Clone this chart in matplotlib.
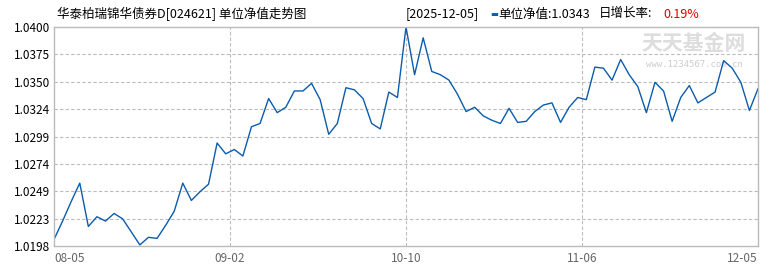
import matplotlib
matplotlib.use('Agg')
import matplotlib.pyplot as plt
import numpy as np

plt.rcParams['font.family'] = ['Noto Sans CJK SC', 'DejaVu Sans']

# 单位净值
nav = [1.0204, 1.0221, 1.0239, 1.0256, 1.0216, 1.0225, 1.0221, 1.0228, 1.0223, 1.0211,
       1.0199, 1.0206, 1.0205, 1.0217, 1.0230, 1.0256, 1.0240, 1.0248, 1.0255, 1.0293,
       1.0283, 1.0287, 1.0281, 1.0308, 1.0311, 1.0334, 1.0321, 1.0326, 1.0341, 1.0341,
       1.0348, 1.0333, 1.0301, 1.0311, 1.0344, 1.0342, 1.0334, 1.0311, 1.0306, 1.0340,
       1.0335, 1.0400, 1.0356, 1.0390, 1.0359, 1.0356, 1.0351, 1.0338, 1.0322, 1.0326,
       1.0318, 1.0314, 1.0311, 1.0325, 1.0312, 1.0313, 1.0322, 1.0328, 1.0330, 1.0312,
       1.0326, 1.0335, 1.0333, 1.0363, 1.0362, 1.0351, 1.0370, 1.0356, 1.0345, 1.0321,
       1.0349, 1.0341, 1.0313, 1.0335, 1.0346, 1.0330, 1.0335, 1.0340, 1.0369, 1.0362,
       1.0349, 1.0323, 1.0343]

x_labels = ['08-05', '09-02', '10-10', '11-06', '12-05']
y_labels = ['1.0198', '1.0223', '1.0249', '1.0274', '1.0299',
            '1.0324', '1.0350', '1.0375', '1.0400']
y_min, y_max = 1.0198, 1.0400

title = '华泰柏瑞锦华债券D[024621] 单位净值走势图'
last_date = '[2025-12-05]'
last_nav = '单位净值:1.0343'
growth = '0.19%'

fig = plt.figure(figsize=(7.7, 2.7), dpi=100)
ax = fig.add_axes([54 / 770, 24 / 270, 704 / 770, 219 / 270])

x = np.arange(len(nav))
ax.plot(x, nav, color='#0b5cad', linewidth=1.0)

ax.set_xlim(0, len(nav) - 1)
ax.set_ylim(y_min, y_max)

xt = np.linspace(0, len(nav) - 1, len(x_labels))
yt = np.linspace(y_min, y_max, len(y_labels))
ax.set_xticks(xt)
ax.set_xticklabels(x_labels, color='#666666', fontsize=8.5)
ax.set_yticks(yt)
ax.set_yticklabels(y_labels, color='#000000', fontsize=8.5)
ax.tick_params(length=0)
ax.tick_params(axis='y', pad=3)
ax.tick_params(axis='x', pad=4)
xtl = ax.get_xticklabels()
xtl[0].set_ha('left')
xtl[-1].set_ha('right')

# 网格
for v in yt[1:-1]:
    ax.axhline(v, color='#bbbbbb', linestyle=(0, (3, 2)), linewidth=0.8, zorder=0)
for v in xt[1:-1]:
    ax.axvline(v, color='#bbbbbb', linestyle=(0, (3, 2)), linewidth=0.8, zorder=0)

for s in ax.spines.values():
    s.set_color('#bbbbbb')
    s.set_linewidth(1.0)

# 水印
ax.text(0.909, 0.925, '天天基金网', transform=ax.transAxes, fontsize=15,
        color='#dddddd', ha='center', va='center', fontweight='bold', zorder=0)
ax.text(0.909, 0.83, 'www.1234567.com.cn', transform=ax.transAxes, fontsize=6.5,
        color='#cccccc', ha='center', va='center', zorder=0,
        family=['DejaVu Sans Mono'])

# 标题
fig.text(57 / 770, 1 - 14 / 270, title, fontsize=9, ha='left', va='center')
fig.text(406 / 770, 1 - 14 / 270, last_date, fontsize=9, ha='left', va='center')
fig.text(490 / 770, 1 - 14 / 270, '▬', fontsize=6, color='#0b5cad', ha='left', va='center',
         family=['DejaVu Sans'])
fig.text(498 / 770, 1 - 14 / 270, last_nav, fontsize=9, ha='left', va='center')
fig.text(599 / 770, 1 - 14 / 270, '日增长率:', fontsize=9, ha='left', va='center')
fig.text(663 / 770, 1 - 14 / 270, growth, fontsize=9, color='#dd0000', ha='left', va='center')

fig.savefig('out.png', dpi=100)
